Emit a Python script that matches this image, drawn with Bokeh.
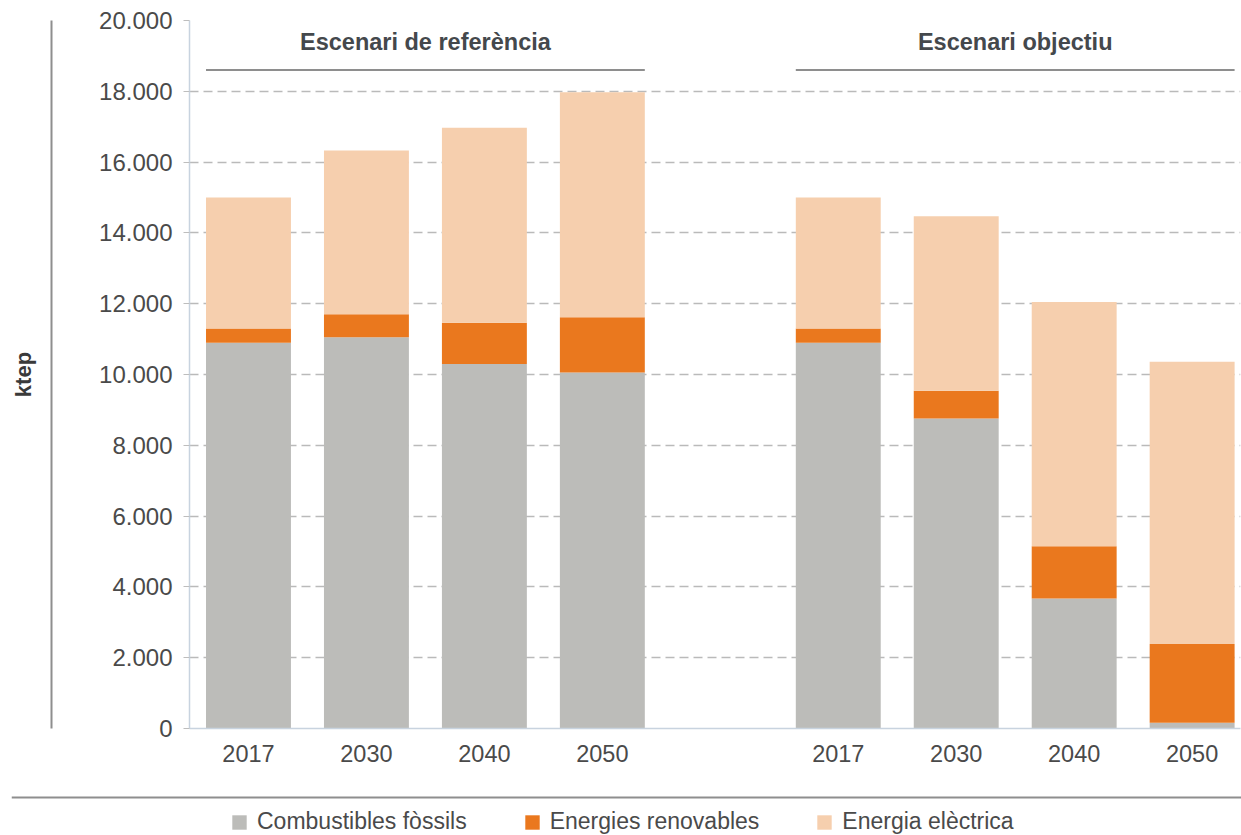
from bokeh.plotting import figure
from bokeh.layouts import column, row
from bokeh.models import (Range1d, FixedTicker, Label, Legend, LegendItem, ColumnDataSource,
                          LinearAxis, Span)
from bokeh.embed import file_html
from bokeh.resources import INLINE

# ---------------- data ----------------
years = ["2017", "2030", "2040", "2050"]
scenarios = ["Escenari de referència", "Escenari objectiu"]
series_names = ["Combustibles fòssils", "Energies renovables", "Energia elèctrica"]

fossils_ref = [10900, 11050, 10300, 10060]
renew_ref = [400, 650, 1160, 1560]
elec_ref = [3700, 4630, 5510, 6350]

fossils_obj = [10900, 8760, 3670, 160]
renew_obj = [400, 780, 1480, 2230]
elec_obj = [3700, 4930, 6900, 7970]

y_ticks = [0, 2000, 4000, 6000, 8000, 10000, 12000, 14000, 16000, 18000, 20000]
y_label = "ktep"

colors = ["#bcbcb9", "#ea781e", "#f6cfae"]
FONT = "Liberation Sans"
TXT = "#4a4a4a"
RULE = "#8e8e8e"

# slot positions: one empty slot between the two scenario groups
n = len(years)
xs = [g * (n + 1) + i for g in range(len(scenarios)) for i in range(n)]
src = ColumnDataSource(dict(
    x=xs,
    f=fossils_ref + fossils_obj,
    r=renew_ref + renew_obj,
    e=elec_ref + elec_obj,
))

BAR_W = 0.72

p = figure(width=1241, height=790, output_backend="svg", toolbar_location=None,
           x_range=Range1d(-0.5, 8.41), y_range=Range1d(0, 20000),
           min_border_left=189, min_border_right=1, min_border_top=20, min_border_bottom=62)
p.outline_line_color = None
p.background_fill_color = "white"
p.border_fill_color = "white"

renderers = p.vbar_stack(["f", "r", "e"], x="x", width=BAR_W, color=colors, source=src,
                         line_color=None)

# axes
p.xaxis.ticker = FixedTicker(ticks=xs)
p.xaxis.major_label_overrides = {x: y for x, y in zip(xs, years * len(scenarios))}
p.xaxis.major_tick_line_color = None
p.xaxis.minor_tick_line_color = None
p.xaxis.axis_line_color = "#c8d3df"
p.xaxis.axis_line_width = 1.5
p.xaxis.major_label_text_font = FONT
p.xaxis.major_label_text_font_size = "23.5px"
p.xaxis.major_label_text_color = TXT
p.xaxis.major_label_standoff = 10

p.yaxis.ticker = FixedTicker(ticks=y_ticks)
p.yaxis.major_label_overrides = {v: f"{v:,}".replace(",", ".") for v in y_ticks}
p.yaxis.major_tick_out = 6
p.yaxis.major_tick_in = 0
p.yaxis.major_tick_line_color = "#bdbdbd"
p.yaxis.minor_tick_line_color = None
p.yaxis.axis_line_color = "#c8d3df"
p.yaxis.axis_line_width = 1.5
p.yaxis.major_label_text_font = FONT
p.yaxis.major_label_text_font_size = "24px"
p.yaxis.major_label_text_color = TXT
p.yaxis.major_label_standoff = 11
# blank axis label used only as a spacer before the outer rule
p.yaxis.axis_label = "\u00a0"
p.yaxis.axis_label_text_font_size = "10px"
p.yaxis.axis_label_standoff = 31

# outer left axis: just the grey vertical rule, carrying the unit label
rule_axis = LinearAxis(ticker=FixedTicker(ticks=[]), axis_line_color=RULE, axis_line_width=2,
                       major_tick_line_color=None, minor_tick_line_color=None,
                       axis_label=y_label, axis_label_standoff=16,
                       axis_label_text_font=FONT, axis_label_text_font_size="22px",
                       axis_label_text_font_style="bold", axis_label_text_color="#3a3a3a")
p.add_layout(rule_axis, "left")

p.xgrid.grid_line_color = None
p.ygrid.grid_line_color = "#bababa"
p.ygrid.grid_line_dash = "9 5"
p.ygrid.grid_line_width = 1.3

# scenario headers and their underline
for g, name in enumerate(scenarios):
    gx = xs[g * n:(g + 1) * n]
    cx = sum(gx) / len(gx)
    p.add_layout(Label(x=cx, y=19400, text=name, text_align="center", text_baseline="middle",
                       text_font=FONT, text_font_size="23.5px", text_font_style="bold",
                       text_color="#44484c"))
    p.segment(x0=[gx[0] - BAR_W / 2], x1=[gx[-1] + BAR_W / 2], y0=[18600], y1=[18600],
              line_color=RULE, line_width=2)

# ---------------- bottom strip: rule + legend ----------------
# same stacked data, but the strip's y range lies above all values, so only the
# legend swatches of these renderers are visible
q = figure(width=1241, height=45, output_backend="svg", toolbar_location=None,
           x_range=Range1d(0, 1), y_range=Range1d(30000, 31000),
           x_axis_type=None, y_axis_type=None,
           min_border_left=11, min_border_right=0, min_border_top=0, min_border_bottom=0)
q.outline_line_color = None
q.xgrid.grid_line_color = None
q.ygrid.grid_line_color = None
q.add_layout(Span(location=31000 - 1000 * 7 / 45, dimension="width",
                  line_color=RULE, line_width=2))

legend_renderers = q.vbar_stack(["f", "r", "e"], x="x", width=BAR_W, color=colors, source=src,
                                line_color=None)
legend = Legend(items=[LegendItem(label=nm, renderers=[r])
                       for nm, r in zip(series_names, legend_renderers)],
                orientation="horizontal", location=(219, 0),
                glyph_width=18, glyph_height=18, label_standoff=9, spacing=56,
                padding=0, margin=0, border_line_color=None, background_fill_alpha=0,
                label_text_font=FONT, label_text_font_size="23px", label_text_color=TXT)
q.add_layout(legend, "center")

layout = column(p, row(q), spacing=0)
open("out.html", "w").write(file_html(layout, INLINE))
